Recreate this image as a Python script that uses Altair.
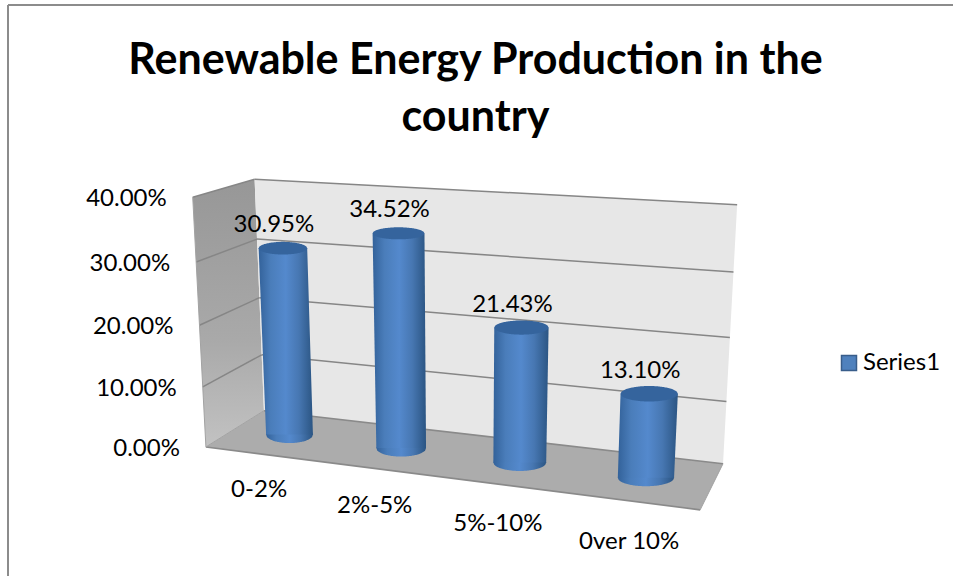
import altair as alt
import numpy as np
import pandas as pd

# Chart content
TITLE_LINES = ["Renewable Energy Production in the", "country"]
CATEGORIES = ["0-2%", "2%-5%", "5%-10%", "0ver 10%"]
SHARES = [30.95, 34.52, 21.43, 13.10]
VALUE_TICKS = [0, 10, 20, 30, 40]
SERIES_NAME = "Series1"

FONT = "Lato"
W, H = 953, 576
V_MAX = 40.0
N = len(CATEGORIES)


def unit(i):
    return (i + 0.5) / N


# Oblique view of the plot box: (along categories, depth, value share) -> screen.
# A projective camera is solved from where the box corners and column ends sit.
camera_pairs = [
    ((0, 0, 0), (206, 446)), ((1, 0, 0), (700, 511)),
    ((0, 1, 0), (263, 412)), ((1, 1, 0), (723, 463)),
    ((0, 0, 1), (192, 197)), ((0, 1, 1), (255, 179)),
    ((1, 1, 1), (737, 204)),
    ((unit(0), 0.5, 0), (290, 434)), ((unit(1), 0.5, 0), (401.5, 448)),
    ((unit(2), 0.5, 0), (520, 462)), ((unit(3), 0.5, 0), (646, 478)),
    ((unit(0), 0.5, SHARES[0] / V_MAX), (283.5, 248)),
    ((unit(1), 0.5, SHARES[1] / V_MAX), (398.5, 235)),
    ((unit(2), 0.5, SHARES[2] / V_MAX), (521.5, 327)),
    ((unit(3), 0.5, SHARES[3] / V_MAX), (649, 394)),
]
A, b = [], []
for (u, d, v), (px, py) in camera_pairs:
    A.append([u, d, v, 1, 0, 0, 0, 0, -px * u, -px * d, -px * v])
    b.append(px)
    A.append([0, 0, 0, 0, u, d, v, 1, -py * u, -py * d, -py * v])
    b.append(py)
cam = np.linalg.lstsq(np.array(A, float), np.array(b, float), rcond=None)[0]


def project(u, d, value):
    v = value / V_MAX
    w = cam[8] * u + cam[9] * d + cam[10] * v + 1
    return (
        (cam[0] * u + cam[1] * d + cam[2] * v + cam[3]) / w,
        (cam[4] * u + cam[5] * d + cam[6] * v + cam[7]) / w,
    )


def scanlines(poly, name):
    """Rows for a horizontal area mark that fills a convex polygon."""
    rows = []
    for y in sorted({p[1] for p in poly}):
        xs = []
        for (x0, y0), (x1, y1) in zip(poly, poly[1:] + poly[:1]):
            if min(y0, y1) <= y <= max(y0, y1):
                if y0 == y1:
                    xs += [x0, x1]
                else:
                    xs.append(x0 + (x1 - x0) * (y - y0) / (y1 - y0))
        rows.append({"id": name, "y": y, "xl": min(xs), "xr": max(xs)})
    return rows


def ellipse(cx, cy, a, ry, name):
    rows = []
    for t in np.linspace(-1, 1, 61):
        h = ry * np.sqrt(max(0.0, 1 - t * t))
        rows.append({"id": name, "x": cx + a * t, "y0": cy - h, "y1": cy + h})
    return rows


X = alt.Scale(domain=[0, W], range=[0, W], nice=False, zero=False)
Y = alt.Scale(domain=[0, H], range=[0, H], nice=False, zero=False)
xq = lambda f: alt.X(f, type="quantitative", scale=X, axis=None)
yq = lambda f: alt.Y(f, type="quantitative", scale=Y, axis=None)


def polygon_layer(rows, fill):
    return alt.Chart(pd.DataFrame(rows)).mark_area(orient="horizontal", color=fill).encode(
        y=yq("y"), x=xq("xl"), x2="xr", detail="id:N"
    )


def ellipse_layer(rows, fill):
    return alt.Chart(pd.DataFrame(rows)).mark_area(orient="vertical", color=fill).encode(
        x=xq("x"), y=yq("y0"), y2="y1", detail="id:N"
    )


def segments(pairs, color, width):
    rows = []
    for k, (p, q) in enumerate(pairs):
        rows += [{"id": k, "o": 0, "x": p[0], "y": p[1]}, {"id": k, "o": 1, "x": q[0], "y": q[1]}]
    return alt.Chart(pd.DataFrame(rows)).mark_line(color=color, strokeWidth=width).encode(
        x=xq("x"), y=yq("y"), detail="id:N", order="o:Q"
    )


def gradient(stops, horizontal=True):
    return alt.LinearGradient(
        gradient="linear",
        stops=[alt.GradientStop(color=c, offset=o) for o, c in stops],
        x1=0, x2=1 if horizontal else 0, y1=0, y2=0 if horizontal else 1,
    )


# Box walls and floor
left_wall = scanlines(
    [project(0, 0, V_MAX), project(0, 1, V_MAX), project(0, 1, 0), project(0, 0, 0)], "left"
)
back_wall = scanlines(
    [project(0, 1, V_MAX), project(1, 1, V_MAX), project(1, 1, 0), project(0, 1, 0)], "back"
)
floor = scanlines(
    [project(0, 1, 0), project(1, 1, 0), project(1, 0, 0), project(0, 0, 0)], "floor"
)
layers = [
    polygon_layer(left_wall, gradient([(0, "#979797"), (0.6, "#A9A9A9"), (1, "#C2C2C2")], False)),
    polygon_layer(back_wall, "#E7E7E7"),
    polygon_layer(floor, "#ACACAC"),
]

# Gridlines on both walls, with the frame of the box
grid = []
for v in VALUE_TICKS[1:]:
    grid.append((project(0, 1, v), project(1, 1, v)))
    grid.append((project(0, 0, v), project(0, 1, v)))
layers.append(segments(grid, "#868686", 1.5))
layers.append(segments(
    [(project(0, 0, 0), project(1, 0, 0)), (project(0, 1, 0), project(1, 1, 0))],
    "#8A8A8A", 1.6,
))
layers.append(segments(
    [(project(0, 0, 0), project(0, 1, 0)), (project(1, 0, 0), project(1, 1, 0)),
     (project(0, 0, 0), project(0, 0, V_MAX))],
    "#A2A2A2", 1.0,
))

# Cylinders
body_fill = gradient([
    (0, "#33629A"), (0.22, "#4A7DBA"), (0.5, "#5489CD"), (0.74, "#4777B2"), (1, "#2B5583"),
])
bodies, bases, caps = [], [], []
for i, share in enumerate(SHARES):
    u = unit(i)
    bx, by = project(u, 0.5, 0)
    tx, ty = project(u, 0.5, share)
    a_b = (project(u + 0.054, 0.5, 0)[0] - project(u - 0.054, 0.5, 0)[0]) / 2
    a_t = (project(u + 0.054, 0.5, share)[0] - project(u - 0.054, 0.5, share)[0]) / 2
    bodies += scanlines([(tx - a_t, ty), (tx + a_t, ty), (bx + a_b, by), (bx - a_b, by)], f"c{i}")
    bases += ellipse(bx, by, a_b, 8.5, f"c{i}")
    caps += ellipse(tx, ty, a_t, 8.8 - 0.08 * share, f"c{i}")
layers.append(ellipse_layer(bases, body_fill))
layers.append(polygon_layer(bodies, body_fill))
layers.append(ellipse_layer(caps, "#35649D"))


def text_layer(rows, **mark):
    opts = dict(font=FONT, fontSize=24, color="#000000", baseline="middle", align="center")
    opts.update(mark)
    return alt.Chart(pd.DataFrame(rows)).mark_text(**opts).encode(
        x=xq("x"), y=yq("y"), text="label:N"
    )


# Value labels above the columns
value_rows = []
for i, share in enumerate(SHARES):
    tx, ty = project(unit(i), 0.5, share)
    value_rows.append({"x": tx, "y": ty, "label": f"{share:.2f}%"})
layers.append(text_layer(value_rows, dx=-9, dy=-23))

# Value axis labels beside the front wall edge
tick_rows = []
for v in VALUE_TICKS:
    px, py = project(0, 0, v)
    tick_rows.append({"x": px, "y": py, "label": f"{v:.2f}%"})
layers.append(text_layer(tick_rows, align="right", dx=-26, dy=2))

# Category labels stepping down below the front edge of the floor
cat_rows = []
for i, name in enumerate(CATEGORIES):
    px, py = project(unit(i), 0, 0)
    cat_rows.append({"x": px - 2, "y": py + 36 + 1.7 * i, "label": name})
layers.append(text_layer(cat_rows))

# Outer chart border, open towards the right and the bottom
layers.append(segments([((8, 5), (W, 5)), ((8, 5), (8, H))], "#8C8C8C", 2))

# Legend drawn by a zero-size point layer
layers.append(
    alt.Chart(pd.DataFrame({"series": [SERIES_NAME], "x": [0], "y": [0]}))
    .mark_point(size=0, filled=True)
    .encode(
        x=xq("x"), y=yq("y"),
        color=alt.Color(
            "series:N",
            scale=alt.Scale(range=["#4F81BD"]),
            legend=alt.Legend(
                orient="none", legendX=837, legendY=351, title=None,
                symbolType="square", symbolSize=225, symbolStrokeColor="#385D8A",
                symbolStrokeWidth=1.5, labelFont=FONT, labelFontSize=24,
                labelColor="#000000", labelOffset=2, symbolOpacity=1,
            ),
        ),
    )
)

chart = (
    alt.layer(*layers)
    .properties(
        width=W, height=H, padding=0,
        autosize=alt.AutoSizeParams(type="none"),
        background="#FFFFFF",
        title=alt.TitleParams(
            text=TITLE_LINES, font=FONT, fontSize=43, fontWeight="bold", color="#000000",
            anchor="middle", dx=-1, dy=178, lineHeight=57, baseline="alphabetic",
        ),
    )
    .configure_view(stroke=None)
)

chart.save("out.html", embed_options={"renderer": "svg", "actions": False})
